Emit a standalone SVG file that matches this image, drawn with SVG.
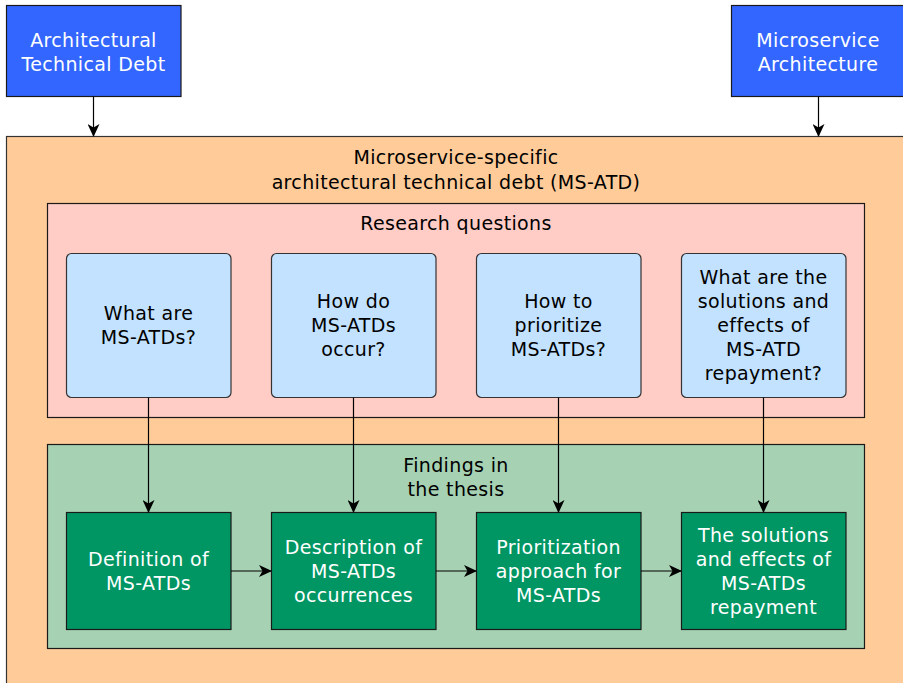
<svg xmlns="http://www.w3.org/2000/svg" width="903" height="683" viewBox="0 0 903 683">
  <style>
    text { font-family: "DejaVu Sans", "Liberation Sans", sans-serif; font-size: 19px; letter-spacing: 0.35px; text-anchor: middle; }
    .light { fill: #ffffff; }
    .dark { fill: #000000; }
    .src { fill: #3366ff; stroke: #1a1a1a; stroke-width: 1.2; }
    .outer { fill: #ffcc99; stroke: #333333; stroke-width: 1.2; }
    .rq { fill: #ffccc6; stroke: #1a1a1a; stroke-width: 1.2; }
    .fd { fill: #a6d1b3; stroke: #1a1a1a; stroke-width: 1.2; }
    .q { fill: #c2e2ff; stroke: #333333; stroke-width: 1.2; }
    .f { fill: #009664; stroke: #1a1a1a; stroke-width: 1.2; }
    .edge { fill: none; stroke: #000000; stroke-width: 1.2; marker-end: url(#arrow); }
  </style>
  <defs>
    <marker id="arrow" viewBox="0 0 13 12" refX="12" refY="6" markerWidth="13" markerHeight="12" markerUnits="userSpaceOnUse" orient="auto">
      <path d="M0,0 L13,6 L0,12 L3.5,6 Z" fill="#000000"/>
    </marker>
  </defs>

  <!-- container: MS-ATD -->
  <g id="ms-atd">
    <rect class="outer" x="6.5" y="136.5" width="910" height="560"/>
    <text class="dark" x="456" y="164">Microservice-specific</text>
    <text class="dark" x="456" y="189">architectural technical debt (MS-ATD)</text>
  </g>

  <!-- source concepts -->
  <g id="atd">
    <rect class="src" x="6.5" y="5.5" width="174.5" height="91"/>
    <text class="light" x="93.5" y="47">Architectural</text>
    <text class="light" x="93.5" y="71">Technical Debt</text>
  </g>
  <g id="msa">
    <rect class="src" x="731.5" y="5.5" width="180" height="91"/>
    <text class="light" x="818" y="47">Microservice</text>
    <text class="light" x="818" y="71">Architecture</text>
  </g>

  <!-- research questions -->
  <g id="research-questions">
    <rect class="rq" x="47.5" y="203.5" width="817" height="214"/>
    <text class="dark" x="456" y="230">Research questions</text>
  </g>
  <g id="rq1">
    <rect class="q" x="66.5" y="253.5" width="164.5" height="144" rx="5"/>
    <text class="dark" x="148.5" y="320">What are</text>
    <text class="dark" x="148.5" y="344">MS-ATDs?</text>
  </g>
  <g id="rq2">
    <rect class="q" x="271.5" y="253.5" width="164.5" height="144" rx="5"/>
    <text class="dark" x="353.5" y="308">How do</text>
    <text class="dark" x="353.5" y="332">MS-ATDs</text>
    <text class="dark" x="353.5" y="356">occur?</text>
  </g>
  <g id="rq3">
    <rect class="q" x="476.5" y="253.5" width="164.5" height="144" rx="5"/>
    <text class="dark" x="558.5" y="308">How to</text>
    <text class="dark" x="558.5" y="332">prioritize</text>
    <text class="dark" x="558.5" y="356">MS-ATDs?</text>
  </g>
  <g id="rq4">
    <rect class="q" x="681.5" y="253.5" width="164.5" height="144" rx="5"/>
    <text class="dark" x="763.5" y="284">What are the</text>
    <text class="dark" x="763.5" y="308">solutions and</text>
    <text class="dark" x="763.5" y="332">effects of</text>
    <text class="dark" x="763.5" y="356">MS-ATD</text>
    <text class="dark" x="763.5" y="380">repayment?</text>
  </g>

  <!-- findings -->
  <g id="findings">
    <rect class="fd" x="47.5" y="444.5" width="817" height="204"/>
    <text class="dark" x="456" y="472">Findings in</text>
    <text class="dark" x="456" y="496">the thesis</text>
  </g>
  <g id="f1">
    <rect class="f" x="66.5" y="512.5" width="164.5" height="117"/>
    <text class="light" x="148.5" y="566">Definition of</text>
    <text class="light" x="148.5" y="590">MS-ATDs</text>
  </g>
  <g id="f2">
    <rect class="f" x="271.5" y="512.5" width="164.5" height="117"/>
    <text class="light" x="353.5" y="554">Description of</text>
    <text class="light" x="353.5" y="578">MS-ATDs</text>
    <text class="light" x="353.5" y="602">occurrences</text>
  </g>
  <g id="f3">
    <rect class="f" x="476.5" y="512.5" width="164.5" height="117"/>
    <text class="light" x="558.5" y="554">Prioritization</text>
    <text class="light" x="558.5" y="578">approach for</text>
    <text class="light" x="558.5" y="602">MS-ATDs</text>
  </g>
  <g id="f4">
    <rect class="f" x="681.5" y="512.5" width="164.5" height="117"/>
    <text class="light" x="763.5" y="542">The solutions</text>
    <text class="light" x="763.5" y="566">and effects of</text>
    <text class="light" x="763.5" y="590">MS-ATDs</text>
    <text class="light" x="763.5" y="614">repayment</text>
  </g>

  <!-- connectors -->
  <g id="connectors">
    <path class="edge" d="M93.5,96.5 V136"/>
    <path class="edge" d="M818.5,96.5 V136"/>
    <path class="edge" d="M148.5,397.5 V512"/>
    <path class="edge" d="M353.5,397.5 V512"/>
    <path class="edge" d="M558.5,397.5 V512"/>
    <path class="edge" d="M763.5,397.5 V512"/>
    <path class="edge" d="M231,571 H271"/>
    <path class="edge" d="M436,571 H476"/>
    <path class="edge" d="M641,571 H681"/>
  </g>
</svg>
